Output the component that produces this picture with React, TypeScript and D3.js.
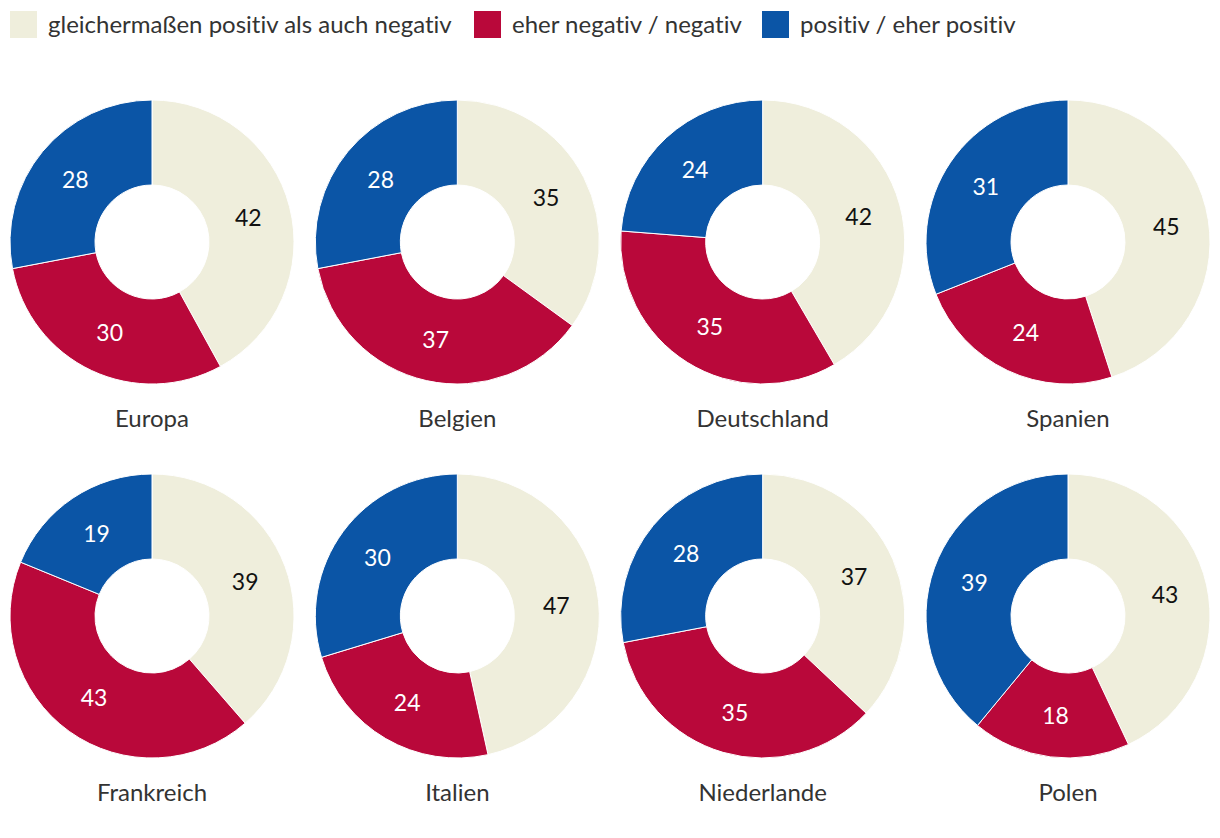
import React from "react";
import * as d3 from "d3";

const categories = ["gleichermaßen positiv als auch negativ", "eher negativ / negativ", "positiv / eher positiv"];
const colors = ["#efeedc", "#b9083a", "#0b55a6"];
const labelColors = ["#111111", "#ffffff", "#ffffff"];
const countries = ["Europa", "Belgien", "Deutschland", "Spanien", "Frankreich", "Italien", "Niederlande", "Polen"];
const neutral = [42, 35, 42, 45, 39, 47, 37, 43];
const negative = [30, 37, 35, 24, 43, 24, 35, 18];
const positive = [28, 28, 24, 31, 19, 30, 28, 39];

const W = 1220;
const H = 838;
const outerR = 142;
const innerR = 57;
const legendX = [10, 474, 762];

export default function App() {
  const pie = d3.pie<number>().sort(null).value((d) => d);
  const arc = d3.arc<d3.PieArcDatum<number>>().innerRadius(innerR).outerRadius(outerR);
  const xScale = d3.scaleLinear().domain([0, 3]).range([152, 1068]);
  const yScale = d3.scaleLinear().domain([0, 1]).range([242, 616]);
  const font = "Lato, 'Open Sans', sans-serif";

  return (
    <svg width={W} height={H} style={{ position: "absolute", left: 0, top: 0, fontVariantLigatures: "none" }} fontFamily={font}>
      <rect width={W} height={H} fill="#ffffff" />
      {categories.map((c, i) => (
        <g key={c} transform={`translate(${legendX[i]},11)`}>
          <rect width={27} height={27} fill={colors[i]} />
          <text x={38} y={22} fontSize={24} fill="#333333">{c}</text>
        </g>
      ))}
      {countries.map((name, k) => {
        const cx = xScale(k % 4);
        const cy = yScale(Math.floor(k / 4));
        const arcs = pie([neutral[k], negative[k], positive[k]]);
        return (
          <g key={name} transform={`translate(${cx},${cy})`}>
            {arcs.map((a, i) => (
              <path key={i} d={arc(a) || ""} fill={colors[i]} stroke="#ffffff" strokeWidth={1} />
            ))}
            {arcs.map((a, i) => {
              const [lx, ly] = arc.centroid(a);
              return (
                <text key={"l" + i} x={lx} y={ly} textAnchor="middle" dominantBaseline="central" fontSize={23} fill={labelColors[i]}>
                  {a.data}
                </text>
              );
            })}
            <text x={0} y={185} textAnchor="middle" fontSize={24} fill="#333333">{name}</text>
          </g>
        );
      })}
    </svg>
  );
}
